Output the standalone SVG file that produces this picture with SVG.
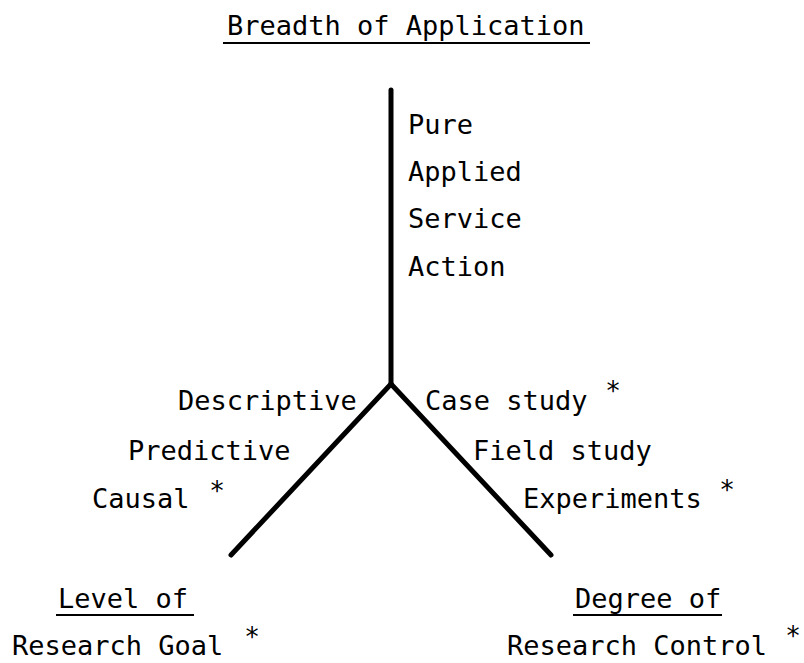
<svg xmlns="http://www.w3.org/2000/svg" width="804" height="663" viewBox="0 0 804 663">
<style>
text{font-family:"DejaVu Sans Mono","Liberation Mono",monospace;font-size:27px;fill:#000}
.star{font-size:26px;text-anchor:middle}
.ul{stroke:#000;stroke-width:2}
.axis{stroke:#000;stroke-width:5;stroke-linecap:round;fill:none}
</style>
<rect width="804" height="663" fill="#fff"/>
<g id="connectors">
<line class="axis" x1="391" y1="90" x2="391" y2="384"/>
<line class="axis" x1="391" y1="384" x2="231" y2="555"/>
<line class="axis" x1="391" y1="384" x2="551" y2="555"/>
</g>
<g id="breadth">
<text x="227" y="35">Breadth of Application</text>
<line class="ul" x1="223" y1="43" x2="590" y2="43"/>
<text x="408" y="134">Pure</text>
<text x="408" y="181">Applied</text>
<text x="408" y="228">Service</text>
<text x="408" y="276">Action</text>
</g>
<g id="goal">
<text x="178" y="410">Descriptive</text>
<text x="128" y="460">Predictive</text>
<text x="92" y="508">Causal</text>
<text class="star" x="217" y="500">*</text>
<text x="58" y="608">Level of</text>
<line class="ul" x1="56" y1="615" x2="194" y2="615"/>
<text x="12" y="655">Research Goal</text>
<text class="star" x="252" y="646">*</text>
</g>
<g id="control">
<text x="425" y="410">Case study</text>
<text class="star" x="613" y="400">*</text>
<text x="473" y="460">Field study</text>
<text x="523" y="508">Experiments</text>
<text class="star" x="727" y="499">*</text>
<text x="575" y="608">Degree of</text>
<line class="ul" x1="573" y1="615" x2="722" y2="615"/>
<text x="507" y="655">Research Control</text>
<text class="star" x="793" y="645">*</text>
</g>
</svg>
